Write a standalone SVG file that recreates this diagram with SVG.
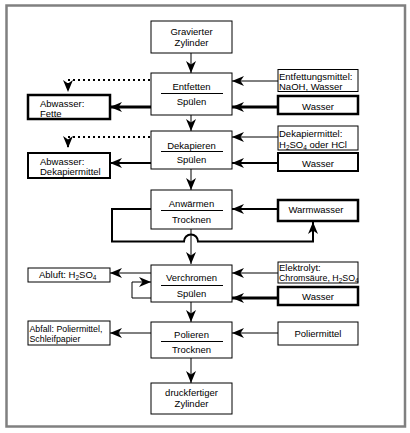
<svg xmlns="http://www.w3.org/2000/svg" width="410" height="433" viewBox="0 0 410 433">
<defs>
<style>
text{font-family:"Liberation Sans",Arial,sans-serif;font-size:9.5px;fill:#000}
.c{text-anchor:middle}
.sm{font-size:8.8px}
.b{fill:#fff;stroke:#000;stroke-width:1}
.bt{fill:#fff;stroke:#000;stroke-width:2.5}
.bm{fill:#fff;stroke:#000;stroke-width:2}
.sep{stroke:#000;stroke-width:1}
.l{fill:none;stroke:#000;stroke-width:1;marker-end:url(#ar)}
.lm{fill:none;stroke:#000;stroke-width:2;marker-end:url(#ar)}
.lt{fill:none;stroke:#000;stroke-width:3;marker-end:url(#ar)}
.d{fill:none;stroke:#000;stroke-width:2;stroke-dasharray:2 3;marker-end:url(#ar)}
.s{font-size:6.5px}
</style>
<marker id="ar" markerUnits="userSpaceOnUse" markerWidth="13" markerHeight="10" refX="12" refY="5" orient="auto">
<path d="M0,0 L12,5 L0,10 L3.5,5 z" fill="#000"/>
</marker>
</defs>
<rect x="0" y="0" width="410" height="433" fill="#fff"/>
<rect x="6.5" y="5.5" width="398.5" height="421" fill="none" stroke="#808080" stroke-width="2.5"/>

<g id="connectors">
<path class="l" d="M191,53 V73"/>
<path class="l" d="M191,115 V131"/>
<path class="l" d="M191,169 V190"/>
<path class="l" d="M191,229 V264"/>
<path class="l" d="M191,302 V322"/>
<path class="l" d="M191,358 V383"/>
<path class="d" d="M150,80 H68 V92"/>
<path class="lt" d="M151,107 H110"/>
<path class="l" d="M278,81 H232"/>
<path class="lt" d="M278,107 H232"/>
<path class="d" d="M150,137 H68 V148"/>
<path class="lm" d="M151,163 H110"/>
<path class="l" d="M278,137 H232"/>
<path class="lm" d="M278,163 H232"/>
<path class="lm" d="M278,209 H232"/>
<path class="lm" d="M151,209 H112 V241.5 H184 A7,7 0 0 1 198,241.5 H313 V222"/>
<path class="l" d="M151,273 H110"/>
<path class="l" d="M151,298 H132 V282 H151"/>
<path class="l" d="M278,273 H232"/>
<path class="lt" d="M278,298 H232"/>
<path class="l" d="M151,333 H110"/>
<path class="l" d="M278,333 H232"/>
</g>

<g id="gravierter">
<rect class="b" x="151" y="21" width="81" height="32"/>
<text class="c" x="191.5" y="35">Gravierter</text>
<text class="c" x="191.5" y="46">Zylinder</text>
</g>
<g id="entfetten">
<rect class="b" x="151" y="73" width="81" height="42"/>
<line class="sep" x1="161" y1="93.5" x2="223" y2="93.5"/>
<text class="c" x="191.5" y="89.5">Entfetten</text>
<text class="c" x="191.5" y="105">Spülen</text>
</g>
<g id="dekapieren">
<rect class="b" x="151" y="131" width="81" height="38"/>
<line class="sep" x1="161" y1="151.5" x2="223" y2="151.5"/>
<text class="c" x="191.5" y="149">Dekapieren</text>
<text class="c" x="191.5" y="162.5">Spülen</text>
</g>
<g id="anwaermen">
<rect class="b" x="151" y="190" width="81" height="39"/>
<line class="sep" x1="161" y1="210.5" x2="223" y2="210.5"/>
<text class="c" x="191.5" y="206.5">Anwärmen</text>
<text class="c" x="191.5" y="222.5">Trocknen</text>
</g>
<g id="verchromen">
<rect class="b" x="151" y="265" width="81" height="37"/>
<line class="sep" x1="161" y1="285.5" x2="223" y2="285.5"/>
<text class="c" x="191.5" y="281">Verchromen</text>
<text class="c" x="191.5" y="296.5">Spülen</text>
</g>
<g id="polieren">
<rect class="b" x="151" y="322" width="81" height="36"/>
<line class="sep" x1="161" y1="341.5" x2="223" y2="341.5"/>
<text class="c" x="191.5" y="337.5">Polieren</text>
<text class="c" x="191.5" y="352.5">Trocknen</text>
</g>
<g id="druckfertig">
<rect class="b" x="151" y="383" width="81" height="31"/>
<text class="c" x="191.5" y="396">druckfertiger</text>
<text class="c" x="191.5" y="407">Zylinder</text>
</g>

<g id="abwasser-fette">
<rect class="bt" x="28" y="95" width="82" height="24"/>
<text x="40" y="107">Abwasser:</text>
<text x="40" y="116.5">Fette</text>
</g>
<g id="abwasser-dekapiermittel">
<rect class="bm" x="28" y="153" width="82" height="25"/>
<text x="40" y="164.5">Abwasser:</text>
<text x="40" y="174.5">Dekapiermittel</text>
</g>
<g id="abluft">
<rect class="b" x="28" y="268" width="82" height="14"/>
<text x="39" y="277.5">Abluft: H<tspan class="s" dy="2">2</tspan><tspan dy="-2">SO</tspan><tspan class="s" dy="2">4</tspan></text>
</g>
<g id="abfall">
<rect class="b" x="28" y="321" width="82" height="24"/>
<text class="sm" x="29.5" y="331.5">Abfall: Poliermittel,</text>
<text class="sm" x="29.5" y="341.5">Schleifpapier</text>
</g>

<g id="entfettungsmittel">
<rect class="b" x="278" y="69.5" width="80" height="22"/>
<text x="279" y="80">Entfettungsmittel:</text>
<text x="279" y="89.5">NaOH, Wasser</text>
</g>
<g id="wasser1">
<rect class="bt" x="278" y="96" width="80" height="18"/>
<text class="c" x="318" y="109.5">Wasser</text>
</g>
<g id="dekapiermittel">
<rect class="b" x="278" y="126" width="80" height="24"/>
<text x="279" y="136.5">Dekapiermittel:</text>
<text x="279" y="147.5">H<tspan class="s" dy="2">2</tspan><tspan dy="-2">SO</tspan><tspan class="s" dy="2">4</tspan><tspan dy="-2"> oder HCl</tspan></text>
</g>
<g id="wasser2">
<rect class="bm" x="278" y="153" width="80" height="18"/>
<text class="c" x="318" y="166.5">Wasser</text>
</g>
<g id="warmwasser">
<rect class="bt" x="278" y="200" width="80" height="21"/>
<text class="c" x="316" y="213">Warmwasser</text>
</g>
<g id="elektrolyt">
<rect class="b" x="278" y="262" width="80" height="21"/>
<text x="279" y="270.5">Elektrolyt:</text>
<text class="sm" x="279" y="281">Chromsäure, H<tspan class="s" dy="2">2</tspan><tspan dy="-2">SO</tspan><tspan class="s" dy="2">4</tspan></text>
</g>
<g id="wasser3">
<rect class="bt" x="278" y="287" width="80" height="18"/>
<text class="c" x="318" y="300">Wasser</text>
</g>
<g id="poliermittel">
<rect class="b" x="278" y="322" width="80" height="23"/>
<text class="c" x="318" y="337">Poliermittel</text>
</g>
</svg>
